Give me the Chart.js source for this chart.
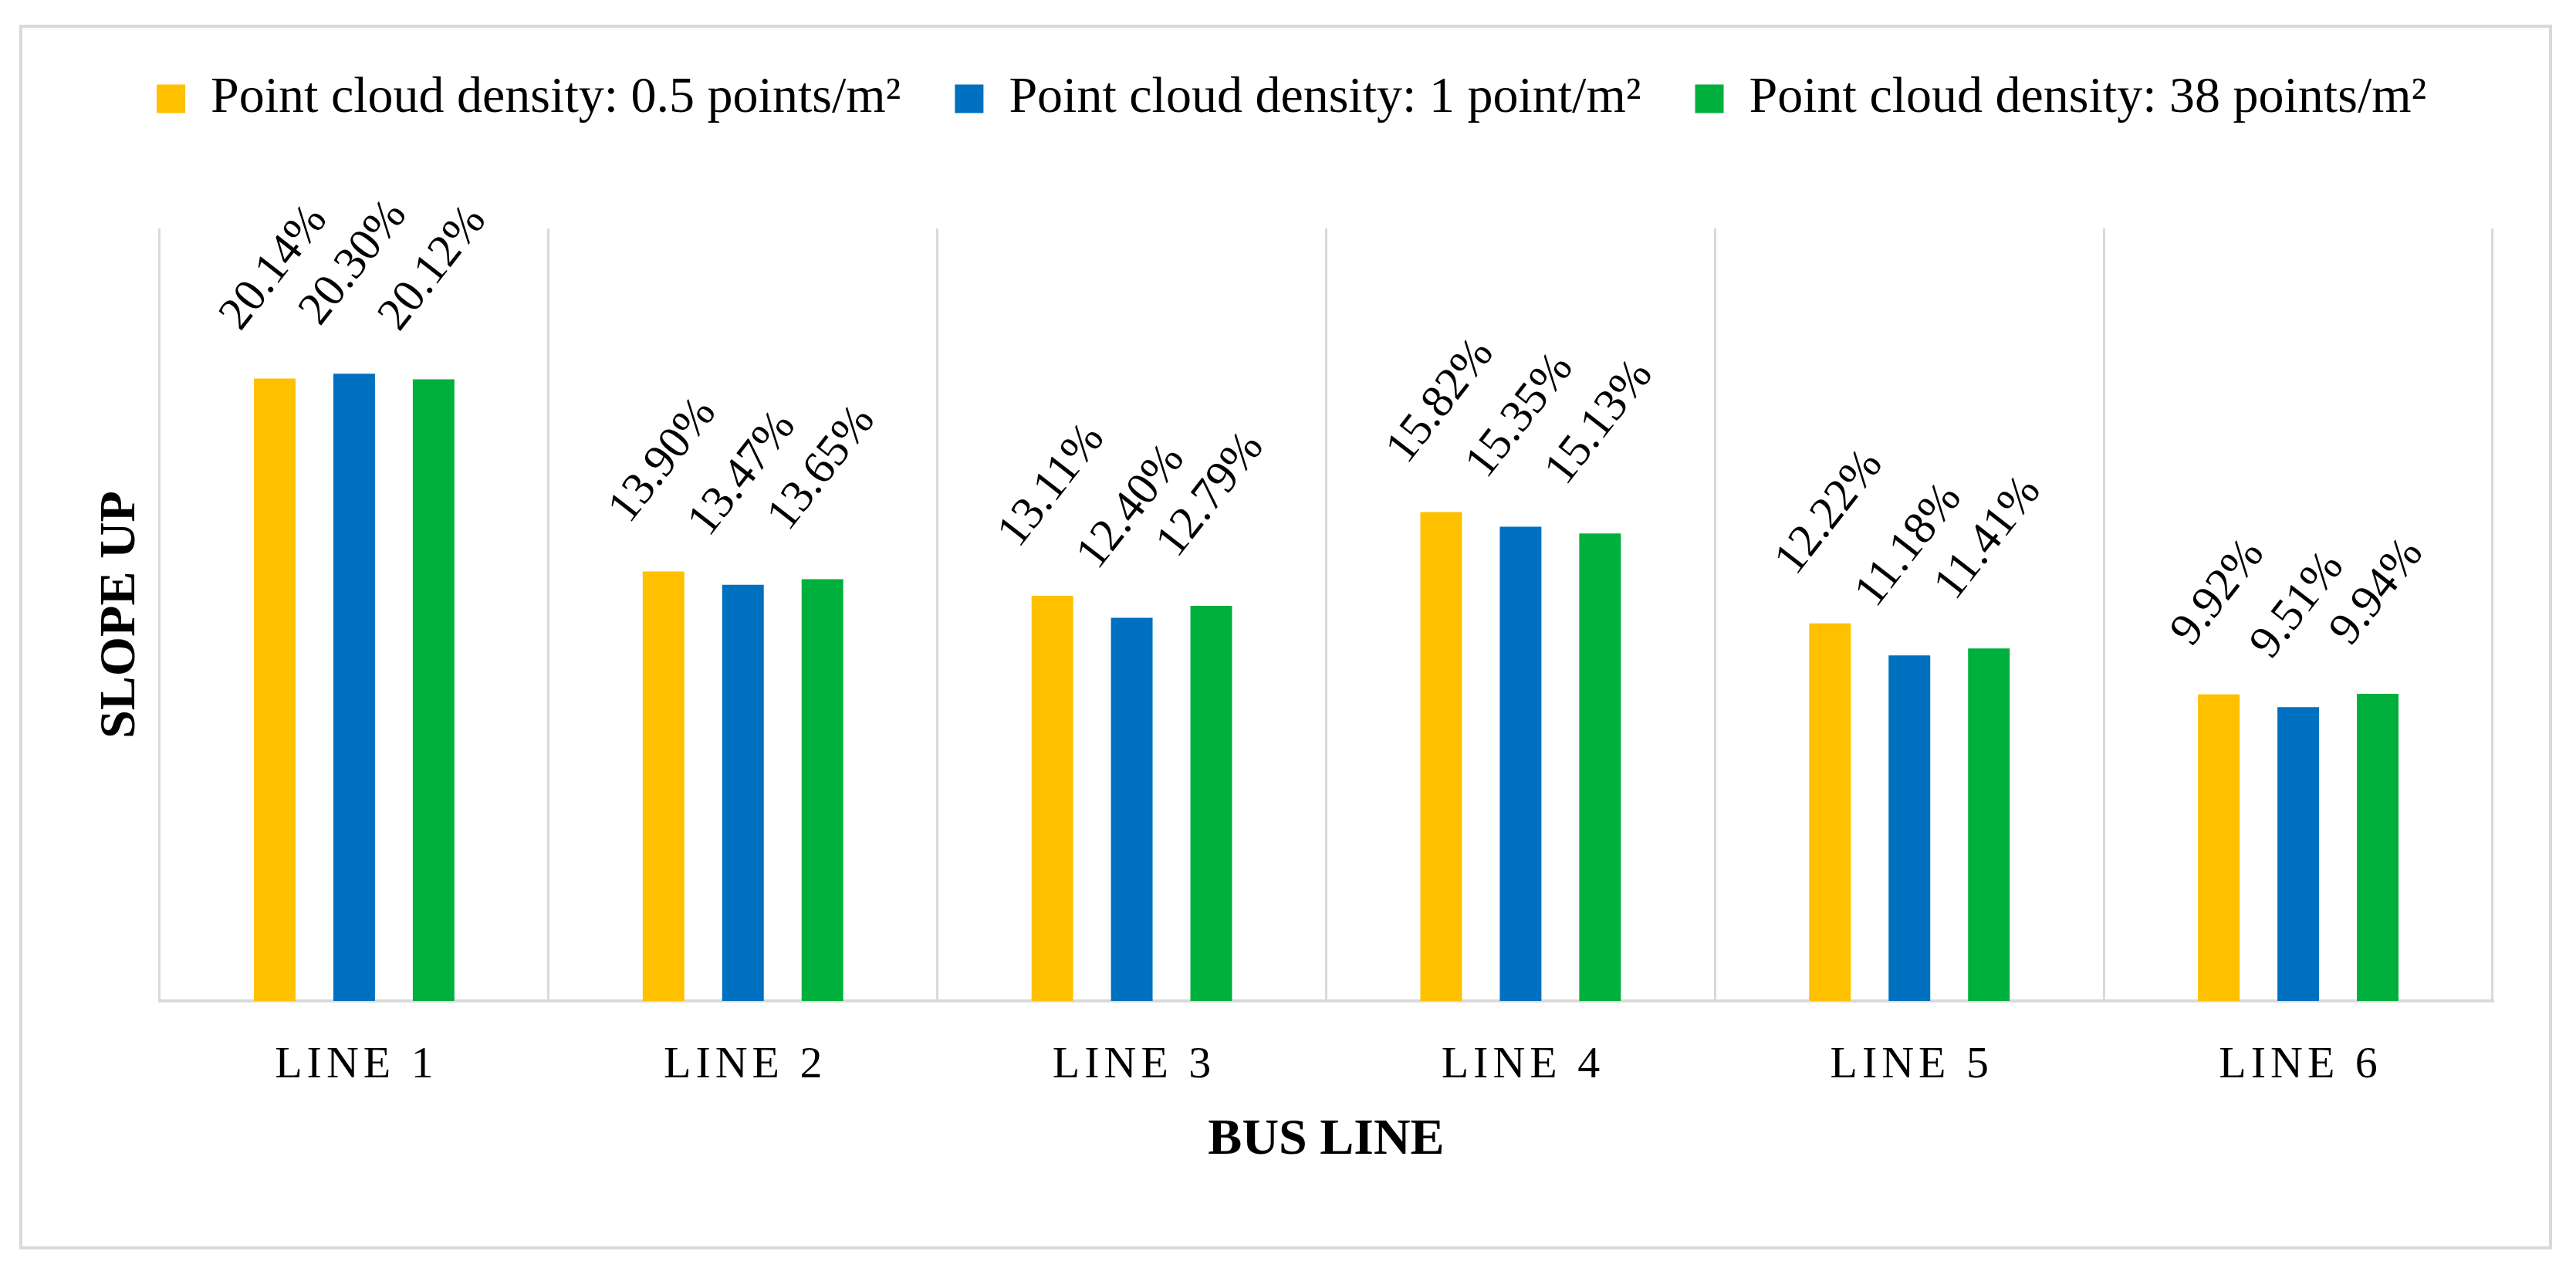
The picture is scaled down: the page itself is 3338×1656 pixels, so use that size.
<!DOCTYPE html>
<html lang="en">
<head>
    <meta charset="UTF-8">
    <title>Slope up by bus line</title>
    <script src="https://cdn.jsdelivr.net/npm/chart.js"></script>
    <style>
        html, body {
            margin: 0;
            padding: 0;
            background: #ffffff;
        }
        #wrap {
            width: 3338px;
            height: 1656px;
        }
    </style>
</head>
<body>
    <div id="wrap"><canvas id="grafico"></canvas></div>

    <script>
        // data
        const categories = ['LINE 1', 'LINE 2', 'LINE 3', 'LINE 4', 'LINE 5', 'LINE 6'];
        const seriesNames = [
            'Point cloud density: 0.5 points/m²',
            'Point cloud density: 1 point/m²',
            'Point cloud density: 38 points/m²'
        ];
        const density05 = [20.14, 13.90, 13.11, 15.82, 12.22, 9.92];
        const density1 = [20.30, 13.47, 12.40, 15.35, 11.18, 9.51];
        const density38 = [20.12, 13.65, 12.79, 15.13, 11.41, 9.94];
        const yMax = 25;

        const serif = "'Liberation Serif', 'Times New Roman', serif";
        const gridColor = '#d9d9d9';

        // outer frame of the figure
        const framePlugin = {
            id: 'frame',
            beforeDraw(chart) {
                const c = chart.ctx;
                c.save();
                c.strokeStyle = gridColor;
                c.lineWidth = 4;
                c.strokeRect(27, 34, 3278, 1583);
                c.restore();
            }
        };

        // rotated value labels above each bar
        const valueLabels = {
            id: 'valueLabels',
            afterDatasetsDraw(chart) {
                const c = chart.ctx;
                const ang = 52 * Math.PI / 180;
                const size = 60;
                c.save();
                c.font = size + 'px ' + serif;
                c.fillStyle = '#000';
                c.textAlign = 'center';
                c.textBaseline = 'middle';
                chart.data.datasets.forEach((ds, i) => {
                    chart.getDatasetMeta(i).data.forEach((bar, j) => {
                        const txt = ds.data[j].toFixed(2) + '%';
                        const w = c.measureText(txt).width;
                        const h = w * Math.sin(ang) + size * 1.2 * Math.cos(ang);
                        c.save();
                        c.translate(bar.x, bar.y - 48 - h / 2);
                        c.rotate(-ang);
                        c.fillText(txt, 0, 0);
                        c.restore();
                    });
                });
                c.restore();
            }
        };

        // category labels with letter spacing
        const tickLabels = {
            id: 'tickLabels',
            afterDraw(chart) {
                const c = chart.ctx;
                const sx = chart.scales.x;
                c.save();
                c.font = '58px ' + serif;
                c.letterSpacing = '6px';
                c.fillStyle = '#000';
                c.textAlign = 'center';
                c.textBaseline = 'middle';
                categories.forEach((lab, i) => {
                    c.fillText(lab, sx.getPixelForTick(i) + 3, sx.top + 84);
                });
                c.restore();
            }
        };

        Chart.defaults.color = '#000';
        Chart.defaults.font.family = serif;

        new Chart(document.getElementById('grafico'), {
            type: 'bar',
            data: {
                labels: categories,
                datasets: [
                    { label: seriesNames[0], data: density05, backgroundColor: '#FFC000' },
                    { label: seriesNames[1], data: density1, backgroundColor: '#0070C0' },
                    { label: seriesNames[2], data: density38, backgroundColor: '#00B03C' }
                ]
            },
            options: {
                responsive: true,
                maintainAspectRatio: false,
                animation: false,
                categoryPercentage: 0.613,
                barPercentage: 0.524,
                layout: {
                    padding: { top: 25, left: 117.4, right: 108, bottom: 138.4 }
                },
                plugins: {
                    legend: {
                        position: 'top',
                        weight: 1000,
                        labels: {
                            font: { size: 66 },
                            color: '#000',
                            boxWidth: 37,
                            boxHeight: 37,
                            padding: 70
                        }
                    },
                    // empty spacer between legend and plot
                    title: {
                        display: true,
                        text: '',
                        weight: 500,
                        font: { size: 10, lineHeight: 1 },
                        padding: { top: 115, bottom: 0 }
                    },
                    tooltip: { enabled: false }
                },
                scales: {
                    x: {
                        grid: {
                            offset: true,
                            color: gridColor,
                            lineWidth: 3,
                            drawTicks: false
                        },
                        border: { display: true, color: gridColor, width: 4 },
                        ticks: { display: false },
                        title: {
                            display: true,
                            text: 'BUS LINE',
                            font: { size: 66, weight: 'bold', lineHeight: 1.2 },
                            padding: { top: 141.4, bottom: 0 }
                        }
                    },
                    y: {
                        min: 0,
                        max: yMax,
                        grid: { display: false, drawTicks: false },
                        border: { display: false },
                        ticks: { display: false },
                        title: {
                            display: true,
                            text: 'SLOPE UP',
                            font: { size: 66, weight: 'bold', lineHeight: 1.2 },
                            padding: { top: 0, bottom: 10.4 }
                        }
                    }
                }
            },
            plugins: [framePlugin, valueLabels, tickLabels]
        });
    </script>
</body>
</html>
